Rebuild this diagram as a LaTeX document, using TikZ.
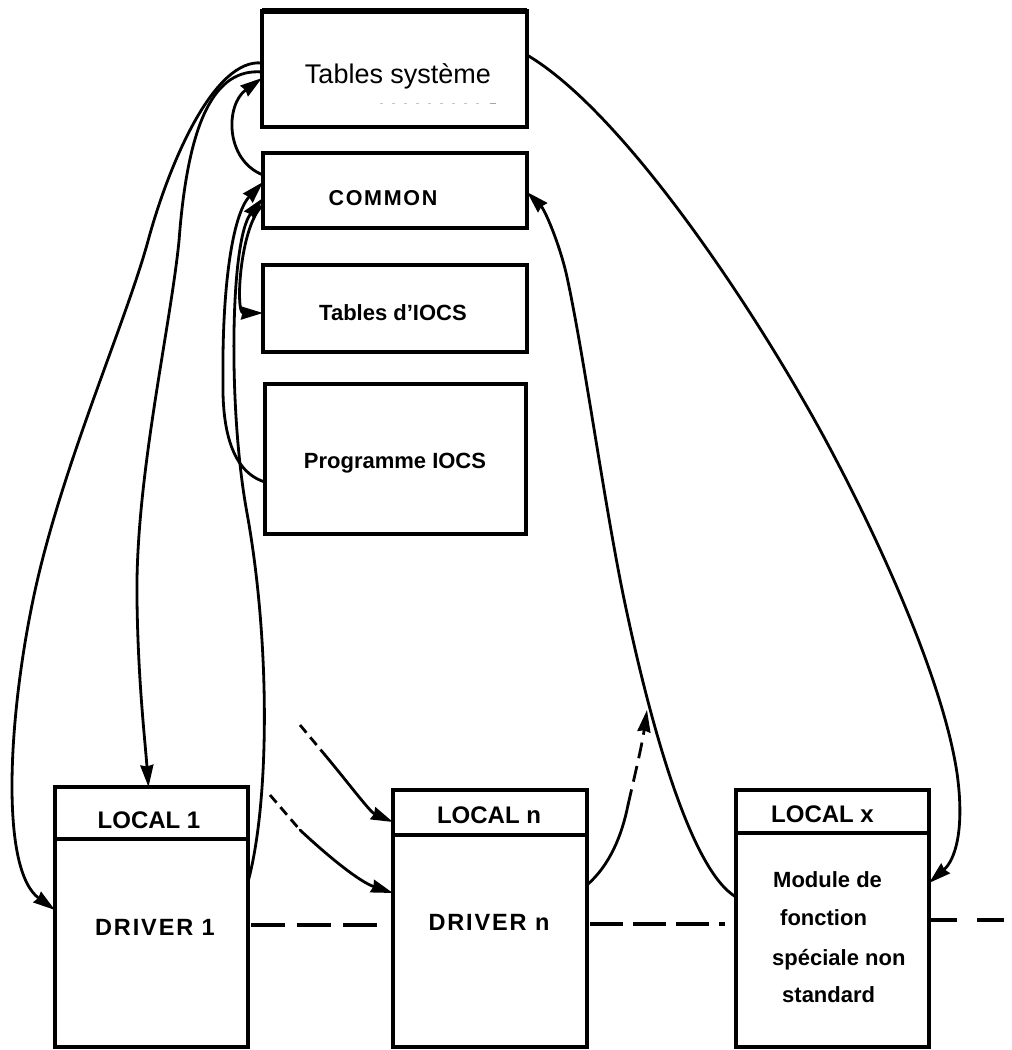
\documentclass[tikz,border=0pt]{standalone}
\usepackage{fontspec}
\setmainfont{Liberation Sans}
\newfontfamily\widesans[LetterSpace=8.0]{Liberation Sans}
\usetikzlibrary{arrows.meta,calc}
\begin{document}
\begin{tikzpicture}[x=1pt,y=-1pt,
  box/.style={draw, line width=3.8pt, inner sep=0pt, outer sep=0pt},
  conn/.style={line width=2.8pt, line cap=round, -{Stealth[length=22pt,width=13pt,inset=1.5pt]}},
  plain/.style={line width=2.8pt, line cap=round},
  tail/.style={line width=2.8pt, dash pattern=on 10pt off 6pt},
  tailhead/.style={line width=2.8pt, dash pattern=on 16pt off 8pt, -{Stealth[length=22pt,width=13pt,inset=1.5pt]}},
  link/.style={line width=3.4pt, dash pattern=on 34pt off 12pt},
  lbl/.style={inner sep=0pt, anchor=base},
  lblw/.style={inner sep=0pt, anchor=base west},
  fsys/.style={font=\fontsize{27}{31}\selectfont},
  fbold/.style={font=\fontsize{22}{26}\selectfont\bfseries},
  fcom/.style={font=\widesans\fontsize{21.5}{26}\selectfont\bfseries},
  floc/.style={font=\fontsize{24}{28}\selectfont\bfseries},
  fdrv/.style={font=\widesans\fontsize{23.5}{28}\selectfont\bfseries}]
\useasboundingbox (0,0) rectangle (1012,1050);

% memory blocks
\node[box, minimum width=265pt, minimum height=116pt] (ts) at (394.5,69) {};
\draw[line width=5.5pt] (ts.north west) -- (ts.north east);
\draw[gray!45, line width=0.8pt, dash pattern=on 3pt off 9pt] (380,103) -- (488,103);
\draw[gray!70, line width=1pt] (490,103) -- (496,103);
\node[box, minimum width=264pt, minimum height=75pt] (cm) at (395,190.5) {};
\node[box, minimum width=264pt, minimum height=87pt] (ti) at (395,308.5) {};
\node[box, minimum width=261pt, minimum height=150pt] (pg) at (395.5,459) {};

\node[lbl, fsys] (tsT) at (398,83) {Tables système};
\node[lbl, fcom] (cmT) at (383,205) {COMMON};
\node[lbl, fbold] (tiT) at (393,320) {Tables d’IOCS};
\node[lbl, fbold] (pgT) at (395,468) {Programme IOCS};

% local areas and drivers
\node[box, minimum width=193pt, minimum height=52pt] (l1h) at (151.5,813) {};
\node[box, minimum width=193pt, minimum height=208pt] (l1b) at (151.5,943) {};
\node[box, minimum width=194pt, minimum height=45pt] (lnh) at (490,812.5) {};
\node[box, minimum width=194pt, minimum height=212pt] (lnb) at (490,941) {};
\node[box, minimum width=193pt, minimum height=43pt] (lxh) at (832.5,811.5) {};
\node[box, minimum width=193pt, minimum height=214pt] (lxb) at (832.5,940) {};

\node[lbl, floc] (l1T) at (149,828) {LOCAL 1};
\node[lbl, fdrv] (d1T) at (155,935) {DRIVER 1};
\node[lbl, floc] (lnT) at (489,823) {LOCAL n};
\node[lbl, fdrv] (dnT) at (489,930) {DRIVER n};
\node[lbl, floc] (lxT) at (822.5,822) {LOCAL x};
\node[lblw, fbold] (m1) at (773,887) {Module de};
\node[lblw, fbold] (m2) at (780,925) {fonction};
\node[lblw, fbold] (m3) at (772,965) {spéciale non};
\node[lblw, fbold] (m4) at (782,1002) {standard};

% system tables to the local areas
\draw[conn] ($(ts.north west)+(0,52)$) .. controls (215,58) and (170,160) .. (148,241)
  .. controls (125,325) and (60,470) .. (33,600)
  .. controls (8,720) and (0,870) .. ($(l1b.north west)+(0,71)$);
\draw[conn] ($(ts.north west)+(0,61)$) .. controls (215,68) and (188,120) .. (179,241)
  .. controls (170,330) and (135,480) .. (137,600)
  .. controls (138,680) and (145,740) .. ($(l1h.north)+(-3,0)$);
\draw[conn] ($(ts.north east)+(0,44)$) .. controls (620,110) and (740,290) .. (802,398)
  .. controls (850,480) and (940,660) .. (957,773)
  .. controls (965,830) and (955,860) .. ($(lxb.north east)+(0,50)$);

% links around COMMON
\draw[conn] ($(cm.north west)+(0,22)$) .. controls (225,160) and (225,105) .. ($(ts.south west)+(0,-49)$);
\draw[conn] ($(pg.north west)+(0,98)$) .. controls (232,472) and (222,430) .. (223,380)
  .. controls (222,290) and (232,215) .. ($(cm.north west)+(0,29)$);
\draw[conn] ($(l1b.north east)+(0,43)$) .. controls (270,800) and (270,640) .. (247,513)
  .. controls (228,410) and (230,240) .. ($(cm.north west)+(0,45)$);
\draw[conn] ($(cm.south west)+(0,-23)$) .. controls (240,225) and (235,313) .. ($(ti.west)+(0,4.5)$);
\draw[conn] ($(lxb.north west)+(0,64)$) .. controls (690,870) and (650,720) .. (627,613)
  .. controls (606,517) and (585,360) .. (567,277)
  .. controls (560,245) and (545,210) .. ($(cm.north east)+(0,39)$);

% continuation arrows around LOCAL n / DRIVER n
\coordinate (upA) at (300,725);
\coordinate (upB) at (325,755);
\draw[tail] (upA) -- (upB);
\draw[conn] (upB) .. controls (350,785) and (370,812) .. ($(lnh.north west)+(0,32)$);
\coordinate (loA) at (270,795);
\coordinate (loB) at (300,830);
\draw[tail] (loA) -- (loB);
\draw[conn] (loB) .. controls (330,858) and (360,882) .. ($(lnb.north west)+(0,58)$);
\coordinate (dnA) at (628,805);
\coordinate (dnB) at (647,710);
\draw[plain] ($(lnb.north east)+(0,50)$) .. controls (610,865) and (622,835) .. (dnA);
\draw[tailhead] (dnA) .. controls (636,770) and (642,745) .. (dnB);

% chaining between drivers
\coordinate (chainEnd) at (1012,920);
\draw[link] ($(l1b.north east)+(3,86)$) -- ($(lnb.north west)+(-6,90)$);
\draw[link, dash pattern=on 33pt off 10pt] ($(lnb.north east)+(3,89)$) -- ($(lxb.north west)+(-11,91)$);
\draw[link, dash pattern=on 27pt off 20pt] ($(lxb.north east)+(1,87)$) -- (chainEnd);
\end{tikzpicture}
\end{document}
